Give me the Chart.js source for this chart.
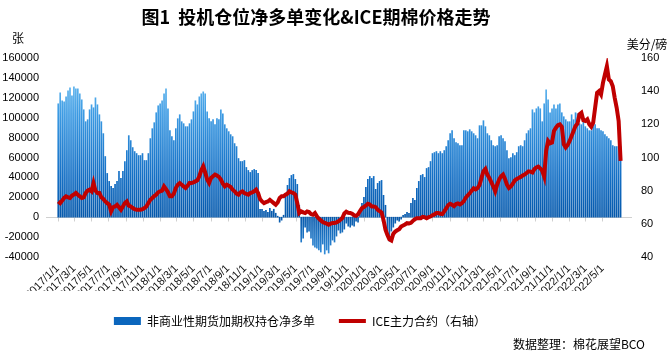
<!DOCTYPE html>
<html>
<head>
<meta charset="utf-8">
<script src="https://cdn.jsdelivr.net/npm/chart.js@4.4.1/dist/chart.umd.min.js"></script>
<style>
  html, body { margin: 0; padding: 0; background: #fff; }
</style>
</head>
<body>
<canvas id="grafico" width="670" height="354"></canvas>
<script>
const chartTitle = '图1  投机仓位净多单变化&ICE期棉价格走势';
const barLabel = '非商业性期货加期权持仓净多单';
const lineLabel = 'ICE主力合约（右轴）';
const leftUnit = '张';
const rightUnit = '美分/磅';
const sourceNote = '数据整理：棉花展望BCO';

// first weekly report date, one bar per week after that
const firstReport = '2017/1/3';

const xTickLabels = [
  '2017/1/1', '2017/3/1', '2017/5/1', '2017/7/1', '2017/9/1', '2017/11/1',
  '2018/1/1', '2018/3/1', '2018/5/1', '2018/7/1', '2018/9/1', '2018/11/1',
  '2019/1/1', '2019/3/1', '2019/5/1', '2019/7/1', '2019/9/1', '2019/11/1',
  '2020/1/1', '2020/3/1', '2020/5/1', '2020/7/1', '2020/9/1', '2020/11/1',
  '2021/1/1', '2021/3/1', '2021/5/1', '2021/7/1', '2021/9/1', '2021/11/1',
  '2022/1/1', '2022/3/1', '2022/5/1'
];

// net long, thousands of contracts (张)
const netLongThousands = [
  114, 125, 117, 116, 121, 127, 130, 122, 131, 129, 129, 124, 118, 108, 96, 98,
  108, 113, 110, 120, 113, 103, 96, 84, 61, 44, 36, 31, 29, 33, 36, 46,
  39, 46, 56, 67, 82, 77, 70, 66, 64, 62, 62, 64, 57, 57, 64, 79,
  89, 95, 105, 112, 114, 117, 124, 129, 109, 87, 81, 77, 89, 99, 103, 96,
  94, 91, 91, 94, 98, 106, 117, 113, 121, 124, 126, 124, 106, 99, 96, 98,
  93, 99, 98, 108, 104, 93, 89, 86, 83, 81, 74, 71, 59, 56, 56, 57,
  50, 47, 45, 47, 48, 47, 44, 8, 8, 6, 7, 5, 9, 6, 8, 4,
  1, -5, -3, 2, 24, 32, 39, 42, 43, 38, 33, 12, -25, -21, -10, -15,
  -14, -21, -28, -30, -31, -33, -35, -27, -37, -33, -36, -28, -23, -25, -19, -13,
  -16, -15, -12, -6, -9, -10, -8, -9, -4, -5, 4, 14, 20, 30, 38, 41,
  39, 41, 28, 34, 36, 37, 22, 12, -19, -24, -14, -10, -6, -3, -4, -2,
  2, 3, 5, 4, 14, 19, 17, 29, 36, 42, 43, 40, 49, 50, 56, 64,
  65, 66, 64, 66, 64, 67, 71, 77, 84, 87, 79, 75, 74, 72, 72, 87,
  87, 86, 88, 86, 84, 82, 79, 92, 92, 97, 91, 84, 82, 77, 72, 71,
  72, 81, 82, 79, 76, 67, 59, 60, 64, 62, 65, 71, 72, 71, 77, 84,
  87, 89, 108, 105, 109, 111, 109, 96, 114, 128, 118, 105, 109, 113, 109, 113,
  114, 105, 101, 98, 96, 96, 103, 98, 105, 104, 94, 93, 96, 91, 89, 87,
  87, 91, 93, 89, 89, 87, 86, 83, 81, 79, 77, 72, 71, 71, 71, 71
];

// ICE front month, US cents per pound, same weeks
const icePrice = [
  73.5, 72.5, 74, 75.6, 76.6, 76, 75.6, 77, 77.6, 78.6, 77.5, 76.6, 75.6, 76, 78.6, 80,
  80.6, 79.6, 84.6, 80, 78.6, 78.6, 76, 75, 73.5, 72.5, 71.5, 67.5, 70, 70.5, 71.5, 70,
  68.5, 70.5, 72.5, 73.5, 71, 70.5, 69.5, 68.8, 68.5, 68.5, 68.5, 68.9, 69.5, 70.5, 72.5, 74.5,
  75.6, 76.8, 77.6, 79, 79.6, 80, 82.6, 81, 79, 76.6, 76.6, 78.2, 81.6, 83.6, 84.6, 83.6,
  82.6, 81.6, 83, 84.6, 84.6, 85, 85.6, 86.2, 88.7, 92.3, 94.7, 91, 86.7, 84.6, 87.7, 88.7,
  89.7, 89.1, 88.3, 86.7, 84.2, 82.6, 83.6, 83, 82.2, 80.6, 79.6, 78.2, 77.6, 79, 79.6, 78.6,
  78, 77.6, 78.6, 79, 79.6, 80.6, 78.6, 74.9, 73.5, 72.5, 73.1, 73.5, 74.5, 73.5, 72.5, 71.5,
  72.9, 75.6, 76.6, 76.6, 77.6, 78.2, 79.6, 79, 78.6, 77.6, 72.5, 66.5, 67.5, 66.9, 66.5, 67.5,
  67.1, 65.9, 65.5, 66.5, 64.5, 63.1, 62.1, 61.1, 60.5, 60.1, 59.5, 60.1, 60.5, 60.5, 60.9, 61.5,
  62.5, 63.5, 66.3, 67.3, 66.7, 66.5, 66.1, 65.1, 64.8, 65.7, 67.7, 69.5, 70.1, 71, 72.1, 71.7,
  70.5, 70.5, 70.1, 68.5, 67.7, 66.9, 62.4, 56.4, 53.3, 50.7, 50, 54, 55.3, 56.1, 56.8, 58.4,
  59, 59.6, 60.4, 60.2, 60.6, 61.8, 62.8, 63.4, 63.4, 63.4, 64.2, 64, 63.4, 64, 64.4, 65.2,
  65.7, 66.5, 66.5, 66.1, 65.9, 67.5, 69.3, 71.3, 72.1, 71.5, 70.7, 71.9, 72.3, 71.7, 72.5, 73.7,
  75.8, 77.2, 78.4, 80, 81.4, 80.8, 81.6, 83.4, 87.7, 91.7, 93.1, 89.7, 87.7, 85.2, 82.6, 79.6,
  83.6, 86.7, 88.7, 89.7, 87.1, 83.6, 81.6, 82.6, 84.2, 86.2, 87, 87.7, 88.3, 89.1, 89.7, 90.7,
  91.7, 91.5, 91, 93, 94, 94.5, 93.5, 92, 88.5, 104, 110, 108.5, 109, 116, 118, 119.5,
  120, 118.5, 108, 106, 107.5, 110, 113, 116, 119, 120.5, 126, 127, 122.5, 122, 123, 120,
  118.5, 121, 130, 139, 140, 138, 145, 150, 155, 147, 146, 143, 136, 130, 122, 98
];

function dayOf(label) {
  const [y, m, d] = label.split('/').map(Number);
  return Math.round((Date.UTC(y, m - 1, d) - Date.UTC(2017, 0, 1)) / 86400000);
}

const startDay = dayOf(firstReport);
const weekDays = netLongThousands.map((_, i) => startDay + 7 * i);

let barGradient = null;
function barFill(context) {
  const chart = context.chart;
  if (!chart.chartArea) return '#0b62b6';
  if (barGradient) return barGradient;
  const y = chart.scales.y;
  const top = y.getPixelForValue(160000);
  const zero = y.getPixelForValue(0);
  const bottom = y.getPixelForValue(-40000);
  const z = (zero - top) / (bottom - top);
  const g = chart.ctx.createLinearGradient(0, top, 0, bottom);
  g.addColorStop(0, '#7ccaf6');
  g.addColorStop(z * 0.35, '#3b9ae3');
  g.addColorStop(z * 0.75, '#136ec4');
  g.addColorStop(z, '#0558ab');
  g.addColorStop(1, '#3590dc');
  barGradient = g;
  return g;
}

const extras = {
  id: 'extras',
  afterLayout(chart) {
    // legend row sits left of the canvas centre in the original
    chart.legend.left -= 35;
    chart.legend.right -= 35;
  },
  beforeDatasetsDraw(chart) {
    const {ctx, chartArea, scales} = chart;
    const y0 = Math.round(scales.y.getPixelForValue(0)) + 0.5;
    ctx.save();
    ctx.strokeStyle = '#d0d0d0';
    ctx.lineWidth = 1;
    ctx.beginPath();
    ctx.moveTo(chartArea.left, y0);
    ctx.lineTo(chartArea.right, y0);
    scales.x.ticks.forEach(t => {
      const x = Math.round(scales.x.getPixelForValue(t.value)) + 0.5;
      ctx.moveTo(x, y0);
      ctx.lineTo(x, y0 + 4);
    });
    ctx.stroke();
    ctx.restore();
  },
  afterDraw(chart) {
    const ctx = chart.ctx;
    ctx.save();
    ctx.fillStyle = '#000';
    ctx.textBaseline = 'middle';
    ctx.textAlign = 'center';
    ctx.font = 'bold 18px "Noto Sans CJK SC"';
    ctx.fillText(chartTitle, 316, 17);
    ctx.font = '12px "Noto Sans CJK SC"';
    ctx.fillText(leftUnit, 18, 38);
    ctx.fillText(rightUnit, 647, 44);
    ctx.textAlign = 'right';
    ctx.fillText(sourceNote, 645, 344);
    ctx.restore();
  }
};

new Chart(document.getElementById('grafico'), {
  data: {
    datasets: [
      {
        type: 'line',
        label: lineLabel,
        data: icePrice.map((v, i) => ({x: weekDays[i], y: v})),
        yAxisID: 'y1',
        borderColor: '#c00000',
        backgroundColor: '#c00000',
        borderWidth: 4,
        pointRadius: 0,
        pointStyle: 'line',
        tension: 0
      },
      {
        type: 'bar',
        label: barLabel,
        data: netLongThousands.map((v, i) => ({x: weekDays[i], y: v * 1000})),
        yAxisID: 'y',
        backgroundColor: barFill,
        borderWidth: 0,
        barThickness: 1,
        pointStyle: 'rect'
      }
    ]
  },
  options: {
    responsive: false,
    animation: false,
    devicePixelRatio: 1,
    layout: { padding: { top: 58, bottom: 17, left: 0, right: 0 } },
    plugins: {
      title: { display: false },
      tooltip: { enabled: false },
      legend: {
        position: 'bottom',
        reverse: true,
        labels: {
          usePointStyle: true,
          pointStyleWidth: 27,
          boxHeight: 8,
          padding: 24,
          color: '#000',
          font: { family: '"Noto Sans CJK SC"', size: 12 },
          generateLabels(chart) {
            const items = Chart.defaults.plugins.legend.labels.generateLabels(chart);
            items.forEach(it => {
              if (it.datasetIndex === 1) {
                it.fillStyle = '#0b66bd';
                it.lineWidth = 0;
              }
            });
            return items;
          }
        }
      }
    },
    scales: {
      x: {
        type: 'linear',
        position: 'bottom',
        min: -10,
        max: 2020,
        grid: { display: false, drawTicks: false },
        border: { display: false },
        afterBuildTicks(scale) {
          scale.ticks = xTickLabels.map(l => ({value: dayOf(l)}));
        },
        afterFit(scale) { scale.height = 34; },
        ticks: {
          autoSkip: false,
          maxRotation: 45,
          minRotation: 45,
          padding: 5,
          color: '#111',
          font: { family: '"Liberation Sans"', size: 11 },
          callback: (v, i) => xTickLabels[i]
        }
      },
      y: {
        position: 'left',
        min: -40000,
        max: 160000,
        grid: { display: false, drawTicks: false },
        border: { display: false },
        afterFit(scale) { scale.width = 46; },
        ticks: {
          stepSize: 20000,
          padding: 7,
          color: '#000',
          font: { family: '"Liberation Sans"', size: 11 },
          callback: v => String(v)
        }
      },
      y1: {
        position: 'right',
        min: 40,
        max: 160,
        grid: { display: false, drawTicks: false },
        border: { display: false },
        afterFit(scale) { scale.width = 38; },
        ticks: {
          stepSize: 20,
          padding: 9,
          color: '#000',
          font: { family: '"Liberation Sans"', size: 11 },
          callback: v => String(v)
        }
      }
    }
  },
  plugins: [extras]
});
</script>
</body>
</html>
